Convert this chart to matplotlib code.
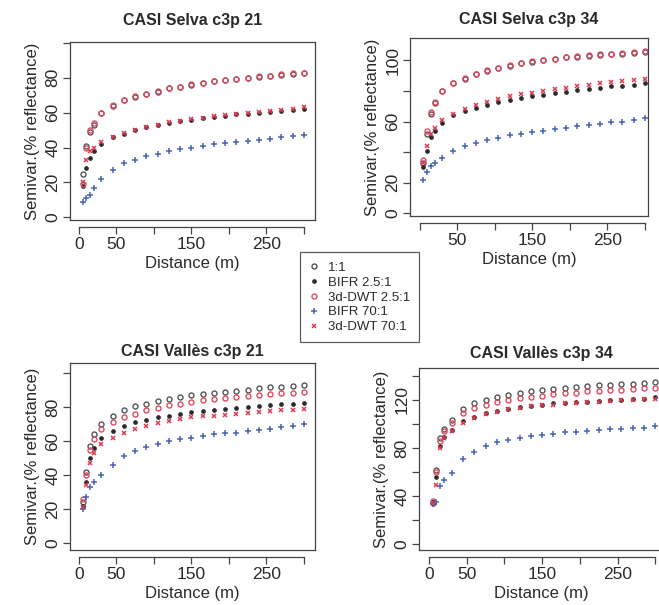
# %% Imports

import matplotlib
matplotlib.use('Agg')
import matplotlib.pyplot as plt
from matplotlib.lines import Line2D

plt.rcParams['font.family'] = ['Liberation Sans', 'DejaVu Sans']

# %% Data

dist = [5, 10, 15, 20, 30, 45, 60, 75, 90, 105, 120, 135, 150, 165,
        180, 195, 210, 225, 240, 255, 270, 285, 300]

series_names = ['1:1', 'BIFR 2.5:1', '3d-DWT 2.5:1', 'BIFR 70:1', '3d-DWT 70:1']

titles = ['CASI Selva c3p 21', 'CASI Selva c3p 34',
          'CASI Vallès c3p 21', 'CASI Vallès c3p 34']

# CASI Selva c3p 21
s21_one = [25, 41, 49, 53, 60, 64, 67, 69, 71, 72, 74, 75, 76, 77, 78, 79, 79.5, 80, 80.5, 81, 81.5, 82, 82.5]
s21_bifr25 = [18, 28, 34, 38, 42, 46, 48, 50, 51.5, 53, 54, 55, 56, 57, 57.5, 58, 59, 59.5, 60, 60.5, 61, 61.5, 62]
s21_dwt25 = [19, 40, 50, 54, 60, 64.5, 67, 69.5, 71, 72.5, 74, 75, 76.5, 77, 78, 79, 79.5, 80, 81, 81, 82, 82.5, 83]
s21_bifr70 = [9, 11, 13, 17, 22, 27, 31, 33, 35, 36.5, 38, 39, 40, 41, 42, 42.5, 43, 44, 44.5, 45, 46, 46.5, 47]
s21_dwt70 = [20, 33, 38, 40, 43, 46, 48.5, 50, 52, 53, 54.5, 55.5, 56.5, 57, 58, 58.5, 59, 60, 60.5, 61, 61.5, 62, 63]

# CASI Selva c3p 34
s34_one = [33, 52, 65, 72, 80, 85, 88, 91, 93, 95, 96.5, 98, 99, 100, 101, 102, 102.5, 103, 103.5, 104, 104.5, 105, 105.5]
s34_bifr25 = [30, 41, 50, 54, 59, 64, 67, 69, 71, 72.5, 74, 75.5, 76.5, 77.5, 78.5, 79.5, 80.5, 81, 82, 83, 83.5, 84, 85]
s34_dwt25 = [35, 54, 66, 73, 80, 85.5, 88.5, 91, 93.5, 95, 97, 98, 99.5, 100.5, 101, 102, 103, 103.5, 104, 104.5, 105, 105.5, 106]
s34_bifr70 = [22, 27, 31, 33, 36, 41, 44, 46, 48, 49.5, 51, 52, 53, 54, 55, 56, 57, 58, 58.5, 59.5, 60, 61, 62]
s34_dwt70 = [33, 44, 52, 56, 61, 65, 68, 71, 73, 75, 76.5, 78, 79, 80, 81, 82, 83, 84, 85, 86, 86.5, 87, 88]

# CASI Vallès c3p 21
v21_one = [24, 42, 57, 64, 70, 75, 78, 80.5, 82, 83.5, 85, 86, 87, 87.5, 88, 89, 89.5, 90, 91, 91.5, 92, 92.5, 93]
v21_bifr25 = [22, 36, 50, 56, 62, 66, 69, 71, 72.5, 74, 75, 76, 77, 77.5, 78, 79, 79.5, 80, 80.5, 81, 81.5, 82, 82.5]
v21_dwt25 = [26, 40, 55, 61, 67, 71, 74, 76, 78, 79.5, 81, 82, 83, 84, 84.5, 85.5, 86, 86.5, 87, 87.5, 88, 88.5, 89]
v21_bifr70 = [20, 27, 33, 36, 40, 46, 51, 54, 56.5, 58.5, 60, 61, 62, 63, 64, 64.5, 65, 66, 66.5, 67, 68, 69, 70]
v21_dwt70 = [21, 34, 47, 53, 58, 62, 65, 67, 69, 70.5, 72, 73, 74, 74.5, 75, 75.5, 76, 76.5, 77, 77.5, 78, 78.5, 79]

# CASI Vallès c3p 34
v34_one = [34, 62, 88, 96, 103, 112, 117, 120, 122, 124, 125.5, 127, 128, 129, 130, 131, 131.5, 132, 132.5, 133, 133.5, 134, 135]
v34_bifr25 = [35, 56, 82, 89, 95, 102, 106, 109, 111, 112.5, 114, 115, 116, 117, 117.5, 118, 118.5, 119, 119.5, 120, 120.5, 121, 122]
v34_dwt25 = [36, 60, 86, 94, 101, 109, 113, 116, 118, 120, 121.5, 122.5, 123.5, 124.5, 125.5, 126, 127, 127.5, 128, 128.5, 129, 129.5, 130]
v34_bifr70 = [33, 35, 48, 53, 59, 71, 77, 82, 85, 87, 88.5, 90, 91, 92, 93, 93.5, 94, 95, 95.5, 96, 96.5, 97, 98]
v34_dwt70 = [34, 49, 80, 88, 94, 101, 105, 108, 110, 112, 113, 114.5, 115.5, 116, 117, 117.5, 118, 118.5, 119, 119.5, 120, 120.5, 121]

panel_data = [
    [s21_one, s21_bifr25, s21_dwt25, s21_bifr70, s21_dwt70],
    [s34_one, s34_bifr25, s34_dwt25, s34_bifr70, s34_dwt70],
    [v21_one, v21_bifr25, v21_dwt25, v21_bifr70, v21_dwt70],
    [v34_one, v34_bifr25, v34_dwt25, v34_bifr70, v34_dwt70],
]

# tick positions and which ones R labelled
x_ticks = [0, 50, 100, 150, 200, 250, 300]
x_labels_a = ['0', '50', '', '150', '', '250', '']
x_labels_b = ['', '50', '', '150', '', '250', '']
y_ticks_100 = [0, 20, 40, 60, 80, 100]
y_labels_a = ['0', '20', '40', '60', '80', '']
y_labels_b = ['0', '20', '', '60', '', '100']
y_ticks_140 = [0, 20, 40, 60, 80, 100, 120, 140]
y_labels_c = ['0', '', '40', '', '80', '', '120', '']

# %% Styles

marker_styles = [
    dict(marker='o', mfc='none', mec='#555555', ms=3.6, mew=1.0, color='#555555'),
    dict(marker='o', mfc='#2a2a2a', mec='#2a2a2a', ms=2.8, mew=0.5, color='#2a2a2a'),
    dict(marker='o', mfc='none', mec='#e04a5e', ms=3.6, mew=1.0, color='#e04a5e'),
    dict(marker='+', mfc='none', mec='#4a64b0', ms=4.4, mew=1.1, color='#4a64b0'),
    dict(marker='x', mfc='none', mec='#e03a50', ms=3.4, mew=1.1, color='#e03a50'),
]

txt_c = '#2a2a2a'
axis_c = '#444444'

# panel positions in figure fractions and axis limits
positions = [
    [0.106, 0.636, 0.372, 0.295],
    [0.622, 0.643, 0.361, 0.294],
    [0.106, 0.091, 0.372, 0.309],
    [0.636, 0.091, 0.370, 0.301],
]
xlims = [(-12, 315), (-13, 304), (-12, 315), (-13, 310)]
ylims = [(-1.7, 100.7), (-1.8, 114.6), (-4.1, 105.9), (-5, 146.7)]
title_pads = [12, 10, 5, 7]
ytick_sets = [(y_ticks_100, y_labels_a), (y_ticks_100, y_labels_b),
              (y_ticks_100, y_labels_a), (y_ticks_140, y_labels_c)]
xtick_labels = [x_labels_a, x_labels_b, x_labels_a, x_labels_a]

# %% Plot

fig = plt.figure(figsize=(6.59, 6.05), dpi=100)
fig.set_facecolor('white')

for i in range(4):
    ax = fig.add_axes(positions[i])
    for vals, st in zip(panel_data[i], marker_styles):
        ax.plot(dist, vals, linestyle='none', **st)

    ax.set_xlim(xlims[i])
    ax.set_ylim(ylims[i])

    # box
    for s in ['top', 'right', 'left']:
        ax.spines[s].set_color(axis_c)
        ax.spines[s].set_linewidth(0.9)
    ax.plot([0, 1], [0, 0], transform=ax.transAxes, color=axis_c, lw=0.9, clip_on=False)

    # x axis drawn a little below the box, like R
    ax.spines['bottom'].set_position(('outward', 5))
    ax.spines['bottom'].set_bounds(0, 300)
    ax.spines['bottom'].set_color(axis_c)
    ax.spines['bottom'].set_linewidth(0.9)

    ax.set_xticks(x_ticks)
    ax.set_xticklabels(xtick_labels[i])
    yt, yl = ytick_sets[i]
    ax.set_yticks(yt)
    ax.set_yticklabels(yl, rotation=90, va='center')
    ax.tick_params(axis='both', direction='out', length=5, width=0.9, color=axis_c,
                   labelsize=12.5, labelcolor=txt_c, pad=2)

    ax.set_xlabel('Distance (m)', fontsize=12, color=txt_c, labelpad=3)
    ax.set_ylabel('Semivar.(% reflectance)', fontsize=12, color=txt_c, labelpad=4)
    ax.set_title(titles[i], fontsize=11.5, fontweight='bold', color=txt_c, pad=title_pads[i])

# Legend in the middle of the figure
handles = [Line2D([], [], linestyle='none', **st) for st in marker_styles]
leg = fig.legend(handles, series_names, loc='upper left', bbox_to_anchor=(0.455, 0.583),
                 fontsize=9.5, frameon=True, fancybox=False, edgecolor='#333333',
                 handlelength=0.8, handletextpad=0.6, labelspacing=0.2,
                 borderpad=0.7, borderaxespad=0)
leg.get_frame().set_linewidth(0.9)
for t in leg.get_texts():
    t.set_color(txt_c)

plt.savefig('out.png', dpi=100)
